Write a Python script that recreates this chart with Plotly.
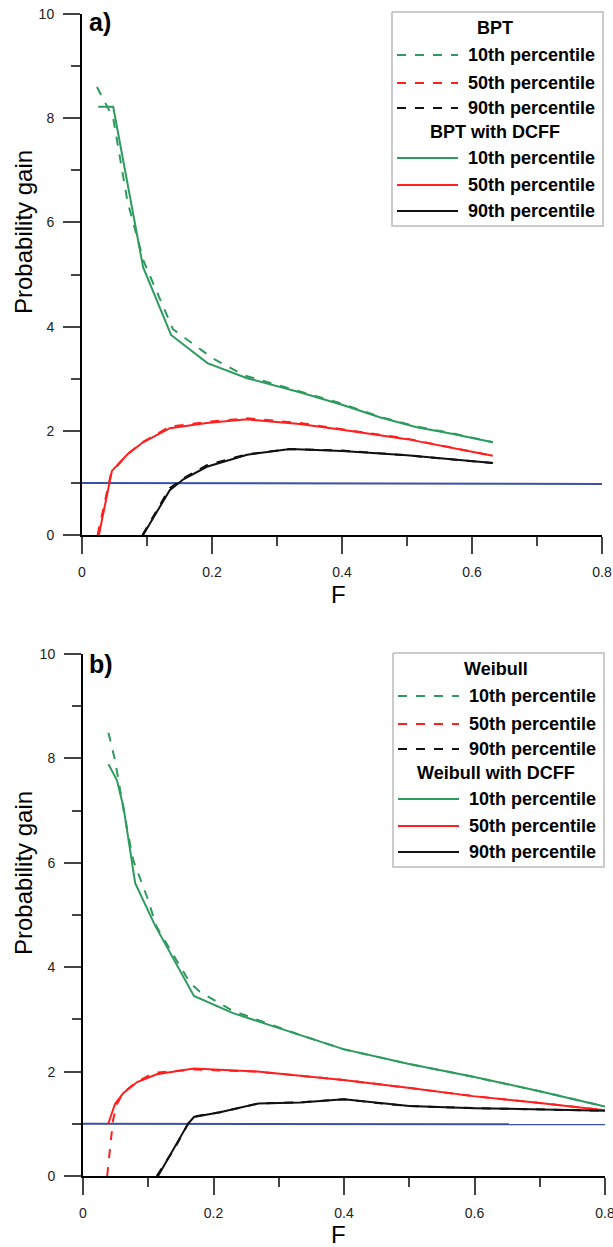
import plotly.graph_objects as go

# ---------------- Panel a (BPT) ----------------
a_g_sol_x = [0.025, 0.048, 0.094, 0.137, 0.193, 0.254, 0.335, 0.40, 0.458, 0.515, 0.571, 0.632]
a_g_sol_y = [8.22, 8.22, 5.14, 3.84, 3.30, 3.01, 2.74, 2.50, 2.26, 2.07, 1.94, 1.78]
a_g_das_x = [0.023, 0.048, 0.07, 0.095, 0.14, 0.20, 0.25, 0.335, 0.40, 0.458, 0.515, 0.571, 0.632]
a_g_das_y = [8.60, 8.00, 6.40, 5.25, 3.95, 3.40, 3.06, 2.76, 2.52, 2.27, 2.08, 1.95, 1.78]

a_r_sol_x = [0.026, 0.046, 0.07, 0.094, 0.135, 0.192, 0.254, 0.335, 0.40, 0.50, 0.632]
a_r_sol_y = [0.0, 1.23, 1.55, 1.78, 2.05, 2.15, 2.22, 2.13, 2.02, 1.84, 1.52]
a_r_das_x = [0.024, 0.045, 0.07, 0.094, 0.135, 0.192, 0.254, 0.335, 0.40, 0.50, 0.632]
a_r_das_y = [0.0, 1.20, 1.55, 1.79, 2.08, 2.17, 2.24, 2.15, 2.03, 1.85, 1.52]

a_k_sol_x = [0.094, 0.135, 0.156, 0.192, 0.254, 0.32, 0.40, 0.50, 0.632]
a_k_sol_y = [0.0, 0.86, 1.07, 1.31, 1.54, 1.65, 1.61, 1.53, 1.38]
a_k_das_x = [0.093, 0.135, 0.156, 0.192, 0.254, 0.32, 0.40, 0.50, 0.632]
a_k_das_y = [0.0, 0.90, 1.09, 1.34, 1.55, 1.65, 1.62, 1.53, 1.38]

a_ref_x = [0.0, 0.8]
a_ref_y = [1.0, 0.98]

# ---------------- Panel b (Weibull) ----------------
b_g_sol_x = [0.039, 0.052, 0.062, 0.080, 0.110, 0.170, 0.230, 0.333, 0.399, 0.498, 0.598, 0.698, 0.80]
b_g_sol_y = [7.89, 7.58, 7.07, 5.61, 4.81, 3.45, 3.12, 2.70, 2.43, 2.15, 1.90, 1.63, 1.33]
b_g_das_x = [0.039, 0.049, 0.064, 0.077, 0.098, 0.113, 0.164, 0.179, 0.230, 0.333, 0.399, 0.498, 0.598, 0.698, 0.80]
b_g_das_y = [8.49, 7.97, 6.88, 6.05, 5.35, 4.77, 3.70, 3.53, 3.16, 2.70, 2.43, 2.15, 1.90, 1.63, 1.33]

b_r_sol_x = [0.039, 0.049, 0.062, 0.083, 0.113, 0.170, 0.267, 0.333, 0.399, 0.498, 0.598, 0.70, 0.80]
b_r_sol_y = [1.01, 1.38, 1.59, 1.80, 1.95, 2.06, 2.00, 1.92, 1.84, 1.69, 1.53, 1.40, 1.26]
b_r_das_x = [0.037, 0.046, 0.052, 0.062, 0.083, 0.110, 0.170, 0.267, 0.333, 0.399, 0.498, 0.598, 0.70, 0.80]
b_r_das_y = [0.0, 1.07, 1.38, 1.60, 1.81, 1.98, 2.04, 2.00, 1.92, 1.84, 1.69, 1.53, 1.40, 1.26]

b_k_sol_x = [0.115, 0.161, 0.170, 0.21, 0.269, 0.333, 0.40, 0.45, 0.50, 0.60, 0.70, 0.80]
b_k_sol_y = [0.0, 1.00, 1.13, 1.22, 1.39, 1.41, 1.47, 1.40, 1.34, 1.30, 1.27, 1.25]
b_k_das_x = [0.113, 0.14, 0.161, 0.170, 0.21, 0.269, 0.333, 0.40, 0.45, 0.50, 0.60, 0.70, 0.80]
b_k_das_y = [0.0, 0.52, 1.00, 1.14, 1.22, 1.39, 1.41, 1.47, 1.40, 1.34, 1.30, 1.27, 1.25]

b_ref_x = [0.0, 0.8]
b_ref_y = [1.0, 0.99]

# ---------------- Text / ticks ----------------
legend_a_titles = ["BPT", "BPT with DCFF"]
legend_b_titles = ["Weibull", "Weibull with DCFF"]
pct_labels = ["10th percentile", "50th percentile", "90th percentile"]
panel_labels = ["a)", "b)"]
x_title = "F"
y_title = "Probability gain"
x_range = [0, 0.8]
x_minor_step = 0.1
y_range = [0, 10]
y_minor_step = 1

GREEN = "#2e9b5e"
RED = "#ff1f1f"
BLACK = "#111111"
BLUE = "#3d4fae"
colors = [GREEN, RED, BLACK]
DASH = "dash"

W, H = 613, 1247
FONT = "Liberation Sans, Arial, sans-serif"

fig = go.Figure()

def add_line(x, y, color, dash, xa, ya, width=2, **kw):
    fig.add_trace(go.Scatter(x=x, y=y, mode="lines",
                             line=dict(color=color, width=width, dash=dash),
                             xaxis=xa, yaxis=ya, showlegend=False, hoverinfo="skip", **kw))

panels = [
    ("x", "y", [(a_g_das_x, a_g_das_y), (a_r_das_x, a_r_das_y), (a_k_das_x, a_k_das_y)],
     [(a_g_sol_x, a_g_sol_y), (a_r_sol_x, a_r_sol_y), (a_k_sol_x, a_k_sol_y)], (a_ref_x, a_ref_y)),
    ("x2", "y2", [(b_g_das_x, b_g_das_y), (b_r_das_x, b_r_das_y), (b_k_das_x, b_k_das_y)],
     [(b_g_sol_x, b_g_sol_y), (b_r_sol_x, b_r_sol_y), (b_k_sol_x, b_k_sol_y)], (b_ref_x, b_ref_y)),
]
for xa, ya, dashed, solid, ref in panels:
    add_line(ref[0], ref[1], BLUE, "solid", xa, ya)
    for (x, y), c in zip(dashed, colors):
        add_line(x, y, c, DASH, xa, ya)
    for (x, y), c in zip(solid, colors):
        add_line(x, y, c, "solid", xa, ya)

def px_x(p):
    return p / W

def px_y(p):
    return 1 - p / H

def axis_common():
    return dict(showgrid=False, zeroline=False, showline=True, linecolor="black", linewidth=2,
                ticks="outside", ticklen=17, tickwidth=2, automargin=False,
                ticklabelstandoff=6, ticklabeloverflow="allow",
                tickfont=dict(family=FONT, size=14, color="#222222"))

def xaxis(domain, anchor):
    return dict(axis_common(), domain=domain, anchor=anchor, range=x_range,
                minor=dict(dtick=x_minor_step, ticklen=9, tickwidth=2, ticks="outside"))

def yaxis(domain, anchor):
    return dict(axis_common(), domain=domain, anchor=anchor, range=y_range,
                minor=dict(dtick=y_minor_step, ticklen=9, tickwidth=2, ticks="outside"))

annotations = []

def legend(top, left, titles):
    bx = [left, left + 211, left + 211, left, left]
    by = [top, top, top + 214, top + 214, top]
    add_line(bx, by, "#bbbbbb", "solid", "x3", "y3", width=1.5, fill="toself", fillcolor="white")
    rows = [16, 43, 71, 96, 120, 146, 173, 199]
    items = [("title", titles[0], None, None)]
    for lab, c in zip(pct_labels, colors):
        items.append(("item", lab, c, DASH))
    items.append(("title", titles[1], None, None))
    for lab, c in zip(pct_labels, colors):
        items.append(("item", lab, c, "solid"))
    for (kind, text, c, dash), dy in zip(items, rows):
        yy = top + dy
        if kind == "title":
            annotations.append(dict(text="<b>%s</b>" % text, x=px_x(left + 103), y=px_y(yy),
                                    xref="paper", yref="paper", xanchor="center", yanchor="middle",
                                    showarrow=False, font=dict(family=FONT, size=18, color="black")))
        else:
            add_line([left + 5, left + 66], [yy, yy], c, dash, "x3", "y3")
            annotations.append(dict(text="<b>%s</b>" % text, x=px_x(left + 74), y=px_y(yy),
                                    xref="paper", yref="paper", xanchor="left", yanchor="middle",
                                    showarrow=False, font=dict(family=FONT, size=18, color="black")))

legend(12, 392, legend_a_titles)
legend(653, 393, legend_b_titles)

fig.update_layout(
    width=W, height=H, margin=dict(l=0, r=0, t=0, b=0),
    paper_bgcolor="white", plot_bgcolor="rgba(0,0,0,0)",
    showlegend=False,
    xaxis=xaxis([px_x(82), px_x(602)], "y"),
    yaxis=yaxis([px_y(535), px_y(14)], "x"),
    xaxis2=xaxis([px_x(83), px_x(605)], "y2"),
    yaxis2=yaxis([px_y(1176), px_y(654)], "x2"),
    xaxis3=dict(domain=[0, 1], anchor="y3", range=[0, W], visible=False, fixedrange=True),
    yaxis3=dict(domain=[0, 1], anchor="x3", range=[H, 0], visible=False, fixedrange=True),
)

for lab, ylab, ytit, xf, yf in [(panel_labels[0], 22, 232, 338, 594),
                                (panel_labels[1], 664, 873, 339, 1234)]:
    annotations.append(dict(text="<b>%s</b>" % lab, x=px_x(87), y=px_y(ylab), xref="paper", yref="paper",
                            xanchor="left", yanchor="middle", showarrow=False,
                            font=dict(family=FONT, size=25, color="black")))
    annotations.append(dict(text=y_title, x=px_x(23), y=px_y(ytit), xref="paper", yref="paper",
                            xanchor="center", yanchor="middle", textangle=-90, showarrow=False,
                            font=dict(family=FONT, size=24, color="black")))
    annotations.append(dict(text=x_title, x=px_x(xf), y=px_y(yf), xref="paper", yref="paper",
                            xanchor="center", yanchor="middle", showarrow=False,
                            font=dict(family=FONT, size=24, color="black")))

fig.update_layout(annotations=annotations)
fig.write_html("out.html", config={"displayModeBar": False},
               post_script="document.body.style.margin='0';document.body.style.padding='0';")
